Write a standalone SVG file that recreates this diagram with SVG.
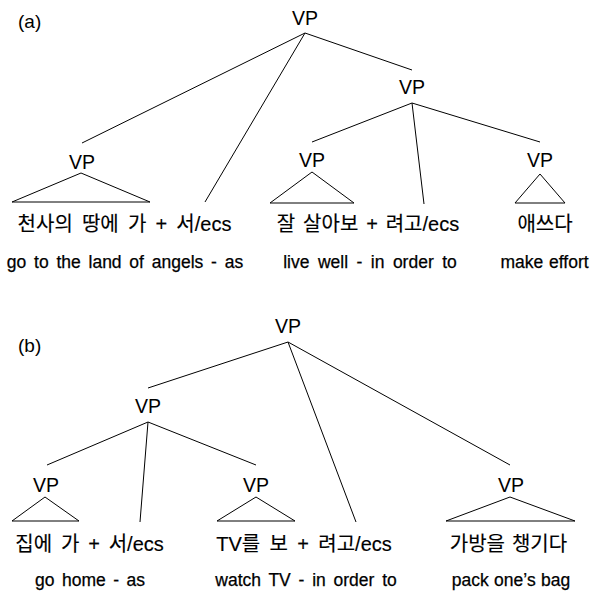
<svg xmlns="http://www.w3.org/2000/svg" width="591" height="593" viewBox="0 0 591 593">
  <style>
    .edge { stroke: #000; stroke-width: 1; fill: none; }
    .tri { stroke: #000; stroke-width: 1; fill: none; stroke-linejoin: miter; }
    .cat { font-family: "Liberation Sans", Arial, sans-serif; font-size: 19.5px; fill: #000; text-anchor: middle; }
    .kor { font-family: "Liberation Sans", "Noto Sans CJK KR", sans-serif; font-size: 20px; fill: #000; stroke: #000; stroke-width: 0.15; text-anchor: middle; }
    .gloss { font-family: "Liberation Sans", Arial, sans-serif; font-size: 17.5px; fill: #000; stroke: #000; stroke-width: 0.25; text-anchor: middle; }
    .panel { font-family: "Liberation Sans", Arial, sans-serif; font-size: 19px; fill: #000; }
  </style>
  <rect width="591" height="593" fill="#fff"/>

  <!-- panel labels -->
  <text class="panel" x="18" y="28">(a)</text>
  <text class="panel" x="18" y="352">(b)</text>

  <!-- connectors -->
  <g id="connectors">
    <!-- tree (a) -->
    <line class="edge" x1="305" y1="33" x2="82" y2="143"/>
    <line class="edge" x1="305" y1="33" x2="205" y2="202"/>
    <line class="edge" x1="305" y1="33" x2="412" y2="70"/>
    <line class="edge" x1="412" y1="103" x2="312" y2="142"/>
    <line class="edge" x1="412" y1="103" x2="424" y2="204"/>
    <line class="edge" x1="412" y1="103" x2="540" y2="142"/>
    <!-- tree (b) -->
    <line class="edge" x1="288" y1="342" x2="148" y2="388"/>
    <line class="edge" x1="288" y1="342" x2="356" y2="522"/>
    <line class="edge" x1="288" y1="342" x2="510" y2="465"/>
    <line class="edge" x1="148" y1="422" x2="47" y2="465"/>
    <line class="edge" x1="148" y1="422" x2="140" y2="522"/>
    <line class="edge" x1="148" y1="422" x2="256" y2="465"/>
  </g>

  <!-- tree (a) nodes -->
  <g id="a-root"><text class="cat" x="305" y="25">VP</text></g>
  <g id="a-vp-right"><text class="cat" x="412" y="94">VP</text></g>
  <g id="a-vp-1">
    <text class="cat" x="82" y="169">VP</text>
    <polygon class="tri" points="81,173 12,202 150,202"/>
    <text class="kor" x="124.5" y="231" word-spacing="3.6">천사의 땅에 가 + 서/ecs</text>
    <text class="gloss" x="125" y="268" word-spacing="2.9">go to the land of angels - as</text>
  </g>
  <g id="a-vp-2">
    <text class="cat" x="312" y="167">VP</text>
    <polygon class="tri" points="312,172 270,203 354,203"/>
    <text class="kor" x="368" y="231" word-spacing="2.3">잘 살아보 + 려고/ecs</text>
    <text class="gloss" x="370" y="268" word-spacing="3.6">live well - in order to</text>
  </g>
  <g id="a-vp-3">
    <text class="cat" x="540" y="167">VP</text>
    <polygon class="tri" points="540,174 515,203 565,203"/>
    <text class="kor" x="545" y="231">애쓰다</text>
    <text class="gloss" x="544.5" y="268" word-spacing="1">make effort</text>
  </g>

  <!-- tree (b) nodes -->
  <g id="b-root"><text class="cat" x="288" y="333">VP</text></g>
  <g id="b-vp-mid"><text class="cat" x="148" y="413">VP</text></g>
  <g id="b-vp-1">
    <text class="cat" x="46" y="492">VP</text>
    <polygon class="tri" points="45,497 12,521 79,521"/>
    <text class="kor" x="89.5" y="551" word-spacing="3.3">집에 가 + 서/ecs</text>
    <text class="gloss" x="90" y="586" word-spacing="2.6">go home - as</text>
  </g>
  <g id="b-vp-2">
    <text class="cat" x="256" y="492">VP</text>
    <polygon class="tri" points="256,497 217,521 295,521"/>
    <text class="kor" x="304" y="551" word-spacing="3.8">TV를 보 + 려고/ecs</text>
    <text class="gloss" x="306" y="586" word-spacing="2.9">watch TV - in order to</text>
  </g>
  <g id="b-vp-3">
    <text class="cat" x="511" y="492">VP</text>
    <polygon class="tri" points="510,497 446,521 575,521"/>
    <text class="kor" x="508.5" y="551" word-spacing="1.4">가방을 챙기다</text>
    <text class="gloss" x="511" y="586" word-spacing="0.5">pack one’s bag</text>
  </g>
</svg>
